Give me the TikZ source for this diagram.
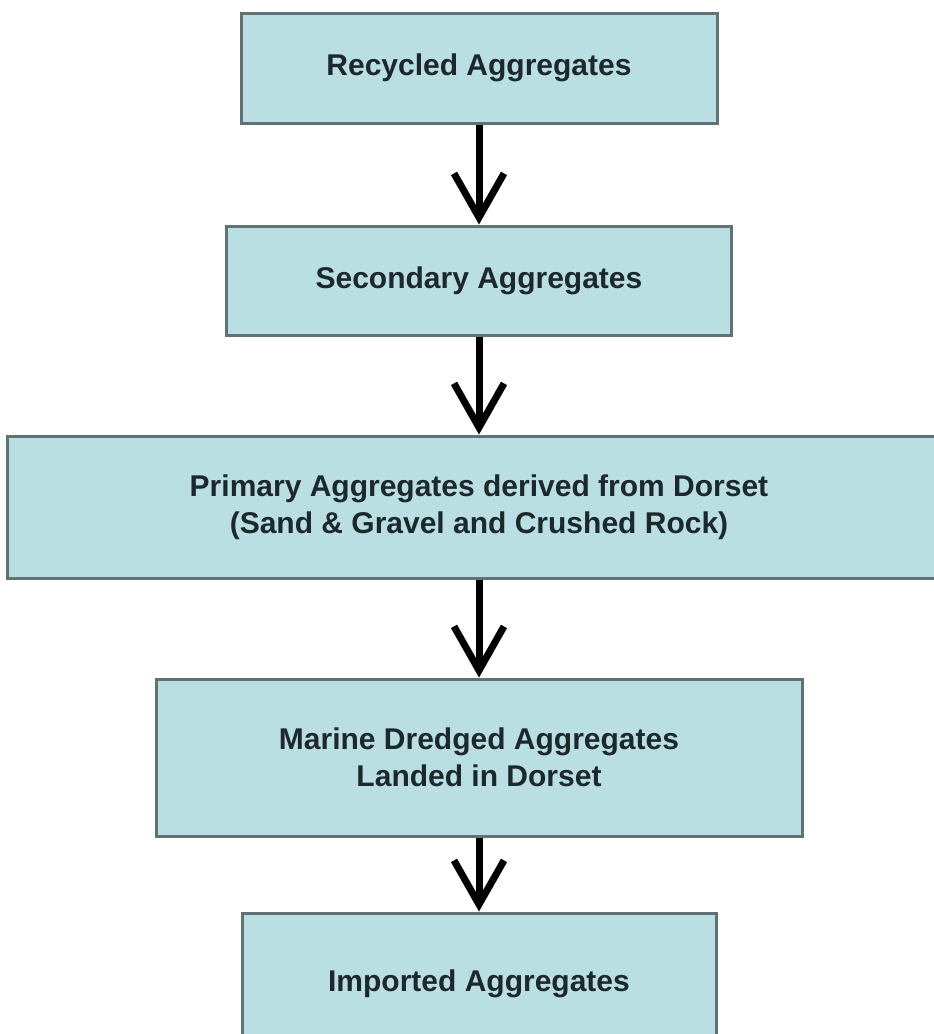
\documentclass[tikz,border=0pt]{standalone}
\usepackage{fontspec}
\setmainfont{Liberation Sans}
\usetikzlibrary{positioning, arrows.meta}
\definecolor{boxfill}{RGB}{186,223,226}
\definecolor{boxline}{RGB}{96,114,116}
\definecolor{boxtext}{RGB}{28,40,44}
\begin{document}
\begin{tikzpicture}[x=1pt, y=1pt,
            aggbox/.style = {draw=boxline, line width=3pt, fill=boxfill, text=boxtext,
                align=center, inner sep=0pt, font=\bfseries\fontsize{30}{37.5}\selectfont},
            flow/.style = {line width=7pt, -{Straight Barb[length=44pt, width=50pt]}}]
            \useasboundingbox (0,0) rectangle (934,-1034);
            \node[aggbox, minimum width=476pt, minimum height=110pt] (rec) at (479,-68) {Recycled Aggregates};
            \node[aggbox, minimum width=505pt, minimum height=109pt, below=100pt of rec] (sec) {Secondary Aggregates};
            \node[aggbox, minimum width=944pt, minimum height=142pt, below=98pt of sec] (prim)
                {Primary Aggregates derived from Dorset\\(Sand \& Gravel and Crushed Rock)};
            \node[aggbox, minimum width=646pt, minimum height=157pt, below=98pt of prim] (mar)
                {Marine Dredged Aggregates\\Landed in Dorset};
            \node[aggbox, minimum width=474pt, minimum height=142pt, below=74pt of mar] (imp) {Imported Aggregates};
            \draw[flow] (rec) -- (sec);
            \draw[flow] (sec) -- (prim);
            \draw[flow] (prim) -- (mar);
            \draw[flow] (mar) -- (imp);
        \end{tikzpicture}
\end{document}
